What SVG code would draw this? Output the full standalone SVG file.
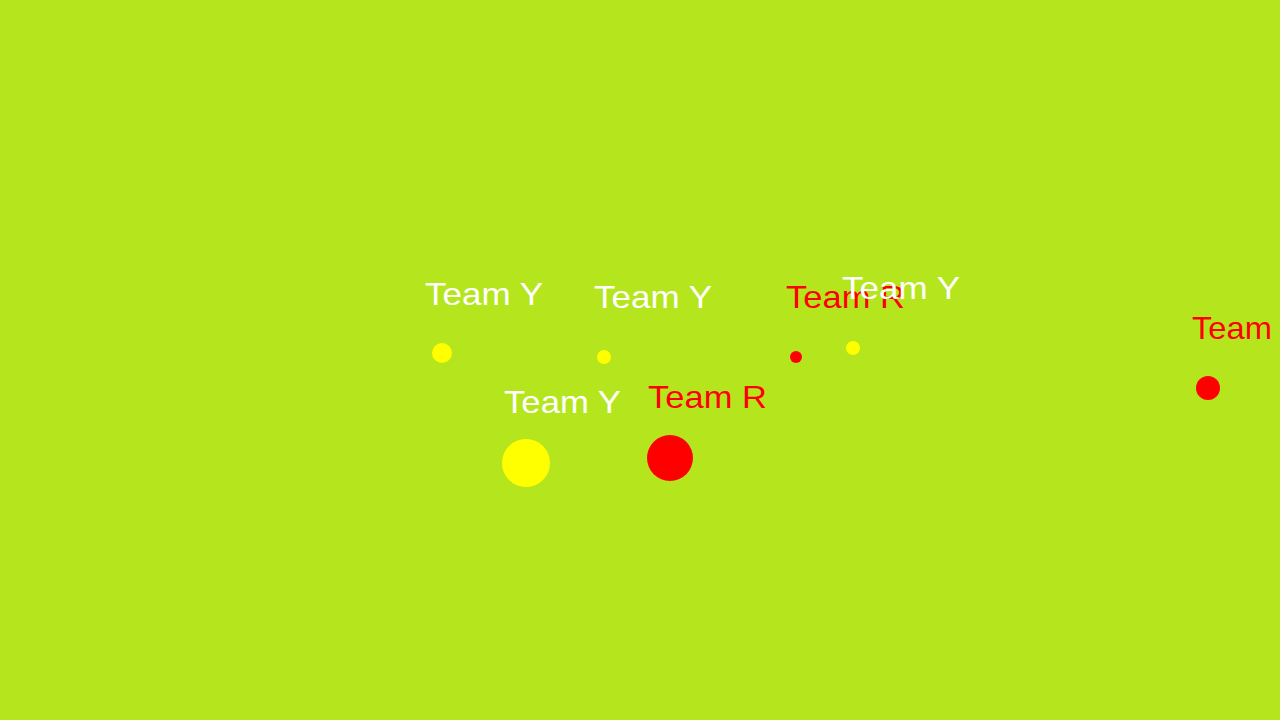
<svg xmlns="http://www.w3.org/2000/svg" width="1280" height="720" viewBox="0 0 1280 720">
<style>
.lbl{font-family:"Liberation Sans",Arial,sans-serif;font-size:32px;}
.w{fill:#ffffff;}
.r{fill:#ff0000;}
.cy{fill:#ffff00;}
.cr{fill:#ff0000;}
</style>
<rect x="0" y="0" width="1280" height="720" fill="#b5e61d"/>
<g id="connectors"/>
<g id="node-y1"><circle class="cy" cx="442" cy="353" r="10"/><text class="lbl w" x="425" y="305" textLength="118" lengthAdjust="spacingAndGlyphs">Team Y</text></g>
<g id="node-y2"><circle class="cy" cx="604" cy="357" r="7"/><text class="lbl w" x="594" y="308" textLength="118" lengthAdjust="spacingAndGlyphs">Team Y</text></g>
<g id="node-r1"><circle class="cr" cx="796" cy="357" r="6"/><text class="lbl r" x="786" y="308" textLength="119" lengthAdjust="spacingAndGlyphs">Team R</text></g>
<g id="node-y3"><circle class="cy" cx="853" cy="348" r="7"/><text class="lbl w" x="842" y="299" textLength="118" lengthAdjust="spacingAndGlyphs">Team Y</text></g>
<g id="node-y4"><circle class="cy" cx="526" cy="463" r="24"/><text class="lbl w" x="504" y="413" textLength="117" lengthAdjust="spacingAndGlyphs">Team Y</text></g>
<g id="node-r2"><circle class="cr" cx="670" cy="458" r="23"/><text class="lbl r" x="648" y="408" textLength="119" lengthAdjust="spacingAndGlyphs">Team R</text></g>
<g id="node-r3"><circle class="cr" cx="1208" cy="388" r="12"/><text class="lbl r" x="1192" y="339" textLength="80" lengthAdjust="spacingAndGlyphs">Team</text></g>
</svg>
